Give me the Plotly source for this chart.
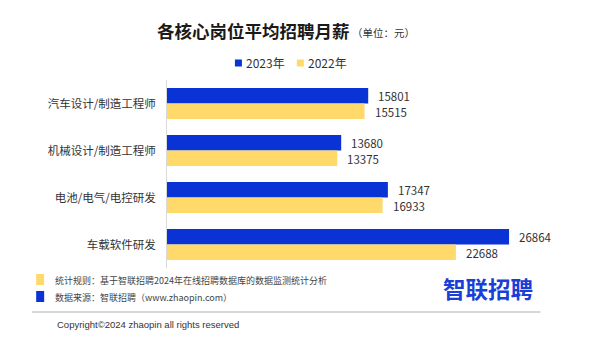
import plotly.graph_objects as go

categories = ["汽车设计/制造工程师", "机械设计/制造工程师", "电池/电气/电控研发", "车载软件研发"]
series_names = ["2023年", "2022年"]
values_2023 = [15801, 13680, 17347, 26864]
values_2022 = [15515, 13375, 16933, 22688]

BLUE = "#0A33D6"
YELLOW = "#FFD96A"
CJK = "Noto Sans CJK SC, Noto Sans, sans-serif"

W, H = 600, 348
L, R, T, B = 167, 549.5, 80, 268


def px(x):
    return (x - L) / (R - L)


def py(y):
    return (B - y) / (B - T)


fig = go.Figure()
fig.add_trace(go.Bar(y=categories, x=values_2023, name=series_names[0], orientation="h",
                     marker=dict(color=BLUE, line=dict(width=0))))
fig.add_trace(go.Bar(y=categories, x=values_2022, name=series_names[1], orientation="h",
                     marker=dict(color=YELLOW, line=dict(width=0))))

annotations = []
for cat, v in zip(categories, values_2023):
    annotations.append(dict(x=v, y=cat, xref="x", yref="y", text=str(v), showarrow=False,
                            xanchor="left", yanchor="middle", xshift=8, yshift=8,
                            font=dict(size=11.5, color="#333333", family=CJK)))
for cat, v in zip(categories, values_2022):
    annotations.append(dict(x=v, y=cat, xref="x", yref="y", text=str(v), showarrow=False,
                            xanchor="left", yanchor="middle", xshift=8, yshift=-8,
                            font=dict(size=11.5, color="#333333", family=CJK)))

# title
annotations.append(dict(x=px(155), y=py(31), xref="paper", yref="paper", showarrow=False,
                        xanchor="left", yanchor="middle",
                        text="<b>各核心岗位平均招聘月薪</b>",
                        font=dict(size=17.5, color="#1a1a1a", family=CJK)))
annotations.append(dict(x=px(350), y=py(32), xref="paper", yref="paper", showarrow=False,
                        xanchor="left", yanchor="middle",
                        text="（单位：元）",
                        font=dict(size=10.5, color="#333333", family=CJK)))

# manual legend
shapes = []
for name, col, x0 in [(series_names[0], BLUE, 235), (series_names[1], YELLOW, 297)]:
    shapes.append(dict(type="rect", xref="paper", yref="paper",
                       x0=px(x0), x1=px(x0 + 7), y0=py(59.5), y1=py(66.5),
                       fillcolor=col, line=dict(width=0)))
    annotations.append(dict(x=px(x0 + 9), y=py(63), xref="paper", yref="paper", showarrow=False,
                            xanchor="left", yanchor="middle", text=name,
                            font=dict(size=12, color="#333333", family=CJK)))

# footer
shapes.append(dict(type="rect", xref="paper", yref="paper",
                   x0=px(36), x1=px(44), y0=py(274), y1=py(285),
                   fillcolor=YELLOW, line=dict(width=0)))
shapes.append(dict(type="rect", xref="paper", yref="paper",
                   x0=px(36), x1=px(44), y0=py(291), y1=py(302),
                   fillcolor=BLUE, line=dict(width=0)))
shapes.append(dict(type="line", xref="paper", yref="paper",
                   x0=px(32), x1=px(541), y0=py(312), y1=py(312),
                   line=dict(color="#b0b0b0", width=1)))
annotations.append(dict(x=px(53), y=py(280), xref="paper", yref="paper", showarrow=False,
                        xanchor="left", yanchor="middle",
                        text="统计规则：基于智联招聘2024年在线招聘数据库的数据监测统计分析",
                        font=dict(size=9, color="#444444", family=CJK)))
annotations.append(dict(x=px(53), y=py(297), xref="paper", yref="paper", showarrow=False,
                        xanchor="left", yanchor="middle",
                        text="数据来源：智联招聘（www.zhaopin.com）",
                        font=dict(size=9, color="#444444", family=CJK)))
annotations.append(dict(x=px(55), y=py(324), xref="paper", yref="paper", showarrow=False,
                        xanchor="left", yanchor="middle",
                        text="Copyright©2024 zhaopin all rights reserved",
                        font=dict(size=9.5, color="#333333", family="Liberation Sans, Arial, sans-serif")))
annotations.append(dict(x=px(441), y=py(288), xref="paper", yref="paper", showarrow=False,
                        xanchor="left", yanchor="middle",
                        text="<b>智联招聘</b>",
                        font=dict(size=22.5, color="#1A3FD6", family=CJK)))

fig.update_layout(
    width=W, height=H,
    margin=dict(l=L, r=W - R, t=T, b=H - B, pad=0),
    paper_bgcolor="white", plot_bgcolor="white",
    barmode="group", bargap=0.34, bargroupgap=0,
    showlegend=False,
    xaxis=dict(range=[0, 30000], visible=False, showgrid=False, zeroline=False, fixedrange=True),
    yaxis=dict(autorange="reversed", showgrid=False, zeroline=False, showline=True,
               linecolor="#d9d9d9", linewidth=1, ticks="", ticklabelstandoff=8,
               tickfont=dict(size=11.5, color="#333333", family=CJK)),
    annotations=annotations,
    shapes=shapes,
    font=dict(family=CJK),
)

fig.write_html("out.html")
